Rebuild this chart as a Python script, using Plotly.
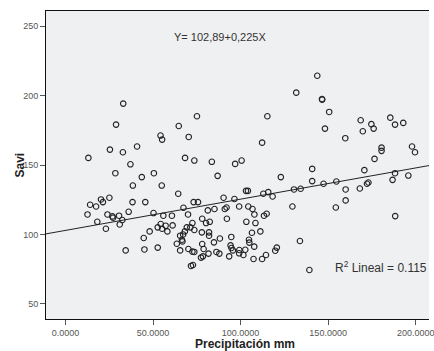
import plotly.graph_objects as go

# Precipitación mm (x) and Savi (y)
precip = [33.0, 28.9, 54.3, 55.2, 64.7, 25.4, 32.8, 40.9, 13.1, 37.1,
          28.5, 43.6, 50.5, 38.5, 55.0, 64.4, 20.3, 25.1, 14.1, 17.5,
          21.4, 38.3, 45.6, 12.6, 24.0, 26.8, 27.2, 30.6, 36.1, 32.5,
          31.0, 18.2, 23.1, 50.3, 55.9, 60.8, 54.4, 52.7, 55.2, 57.2,
          58.2, 61.2, 48.1, 44.7, 34.4, 45.1, 52.7, 63.6,
          86.9, 123.0, 73.2, 75.7, 67.4, 90.3, 96.5, 103.1, 104.2, 113.0,
          115.8, 118.3, 130.5, 134.3, 129.6, 81.3, 85.1, 91.0, 92.0, 99.2,
          104.4, 106.8, 107.9, 114.9, 113.4, 70.0, 78.1, 82.4, 80.3, 92.2,
          103.3, 108.5, 72.5, 69.3, 71.3, 73.6, 68.2, 65.5, 67.2, 77.9,
          82.0, 82.0, 88.2, 94.7, 106.5, 111.3, 66.5, 66.8, 84.8, 78.1,
          104.8, 105.0, 94.3, 94.8, 95.6, 107.8, 99.3, 102.7, 99.2, 101.6,
          65.5, 70.2, 72.5, 73.6, 78.9, 81.7, 86.2, 87.9, 93.5, 78.5,
          77.4, 71.7, 72.8, 107.4, 112.3, 114.5, 119.8, 120.7, 133.9,
          131.8, 75.1, 115.3, 70.4, 112.3, 68.3, 73.6, 83.6, 96.9, 100.6,
          143.8, 146.5, 146.6, 150.6, 148.2, 159.8, 168.6, 169.8, 174.7, 176.0,
          185.5, 188.2, 192.9, 180.5, 180.5, 176.5, 197.9, 199.6,
          140.9, 170.7, 140.9, 147.4, 154.7, 160.0, 168.1, 172.2, 173.0, 188.2,
          186.8, 195.8, 160.0, 154.4, 188.3, 139.3]
savi = [194.2, 179.1, 171.2, 168.3, 178.1, 161.1, 159.2, 163.3, 155.1, 150.5,
        144.1, 141.3, 144.1, 135.2, 135.2, 129.3, 125.2, 126.4, 121.4, 120.1,
        123.3, 123.3, 123.3, 114.4, 114.4, 113.0, 112.0, 113.5, 116.3, 110.4,
        107.2, 109.1, 104.1, 115.4, 113.5, 113.5, 107.5, 105.1, 104.1, 106.3,
        102.2, 106.5, 102.2, 97.4, 88.5, 89.2, 90.5, 93.3,
        142.2, 141.3, 123.3, 123.3, 119.2, 126.4, 125.5, 131.4, 131.4, 129.3,
        130.5, 127.3, 132.4, 132.9, 120.1, 117.3, 118.3, 118.3, 119.4, 120.1,
        120.1, 118.3, 114.4, 114.9, 113.5, 114.4, 111.3, 109.1, 108.2, 111.3,
        109.1, 108.2, 108.2, 105.1, 105.1, 103.2, 102.2, 99.1, 100.0, 101.5,
        101.5, 99.1, 97.1, 98.2, 101.2, 102.2, 96.2, 95.0, 94.3, 93.1,
        96.2, 94.1, 92.1, 90.2, 88.5, 91.2, 88.8, 89.0, 86.4, 85.2,
        88.5, 89.5, 87.6, 87.4, 89.5, 86.2, 87.4, 86.2, 84.2, 84.2,
        83.3, 77.3, 78.0, 82.3, 82.3, 85.2, 88.3, 90.5, 95.3,
        202.1, 185.1, 185.1, 170.2, 166.1, 155.1, 153.2, 152.3, 150.8, 153.2,
        214.3, 197.5, 197.0, 188.2, 176.2, 169.3, 182.2, 174.3, 179.4, 176.2,
        184.1, 179.1, 180.3, 162.5, 160.2, 154.4, 163.3, 159.2,
        147.2, 146.3, 138.4, 136.5, 138.1, 132.4, 133.1, 136.5, 137.4, 144.1,
        139.3, 142.4, 124.5, 119.4, 113.2, 74.4]

# Linear fit shown on the chart
intercept = 102.89
slope = 0.225

x_range = [-11.1, 207.6]
y_range = [39.1, 260.9]
y_ticks = [50, 100, 150, 200, 250]
x_ticks = [0, 50, 100, 150, 200]

fit_y = [intercept + slope * v for v in x_range]

FONT = "Liberation Sans, Arial, sans-serif"

fig = go.Figure()
fig.add_trace(go.Scatter(
    x=x_range, y=fit_y, mode="lines",
    line=dict(color="#222222", width=1), hoverinfo="skip"))
fig.add_trace(go.Scatter(
    x=precip, y=savi, mode="markers",
    marker=dict(symbol="circle-open", size=5.5, color="#222222",
                line=dict(width=1.1, color="#222222"))))

tick_font = dict(family=FONT, size=9, color="#555555")

fig.update_layout(
    width=434, height=351,
    margin=dict(l=46, r=0, t=11, b=32),
    paper_bgcolor="white",
    plot_bgcolor="#EFF0F2",
    showlegend=False,
    xaxis=dict(range=x_range, tickvals=x_ticks, tickformat=".4f",
               showgrid=False, zeroline=False,
               showline=True, linecolor="#111111", linewidth=1, mirror=True,
               ticks="outside", ticklen=5, tickcolor="#555555",
               ticklabeloverflow="allow",
               tickfont=tick_font),
    yaxis=dict(range=y_range, tickvals=y_ticks,
               showgrid=False, zeroline=False,
               showline=True, linecolor="#111111", linewidth=1,
               ticks="outside", ticklen=5, tickcolor="#555555",
               tickfont=tick_font),
    annotations=[
        dict(text="Y= 102,89+0,225X", xref="paper", yref="paper",
             x=(222.5 - 46) / 388, y=(319 - 29) / 308.3, showarrow=False,
             font=dict(family=FONT, size=11, color="#333333")),
        dict(text="R<sup>2</sup> Lineal = 0.115", xref="paper", yref="paper",
             x=1.0, xanchor="right", y=(319 - 277) / 308.3, showarrow=False,
             font=dict(family=FONT, size=12, color="#333333")),
        dict(text="<b>Precipitación mm</b>", xref="paper", yref="paper",
             x=(248 - 46) / 388, y=(319 - 344) / 308.3, yanchor="middle",
             showarrow=False,
             font=dict(family=FONT, size=12, color="#222222")),
        dict(text="<b>Savi</b>", xref="paper", yref="paper",
             x=(20 - 46) / 388, y=(319 - 165) / 308.3, xanchor="center",
             yanchor="middle", textangle=-90, showarrow=False,
             font=dict(family=FONT, size=12, color="#222222")),
    ],
)

fig.write_html("out.html")
